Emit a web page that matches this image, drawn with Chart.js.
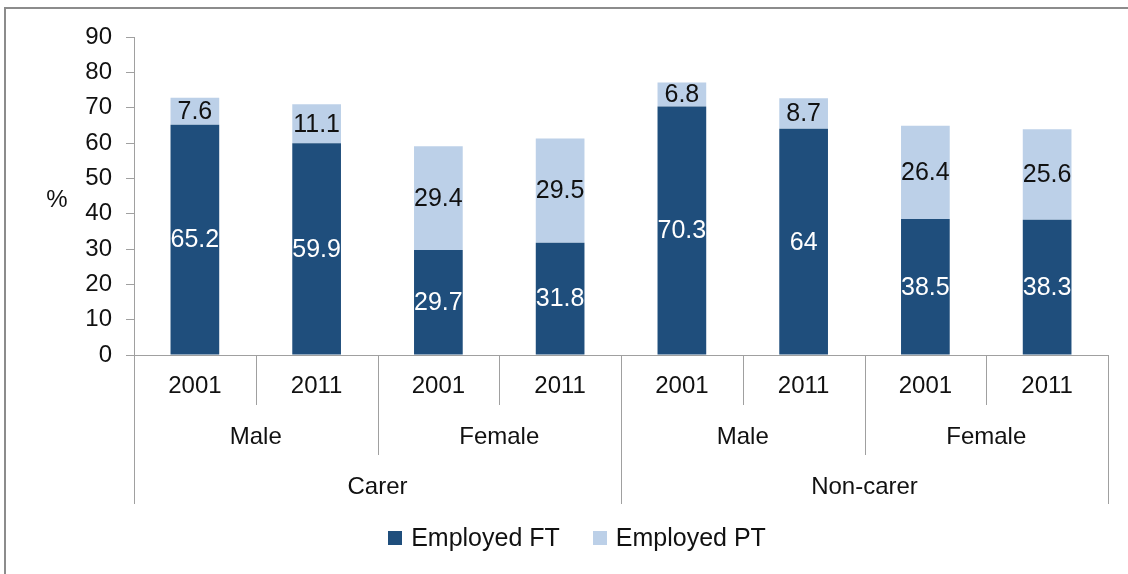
<!DOCTYPE html>
<html>
<head>
<meta charset="utf-8">
<title>Employment of carers and non-carers, 2001 and 2011</title>
<script src="https://cdn.jsdelivr.net/npm/chart.js@4.4.1/dist/chart.umd.min.js"></script>
<style>
  html, body { margin: 0; padding: 0; background: #ffffff; overflow: hidden; }
  #wrap { position: relative; width: 1128px; height: 574px; }
  #frame {
    position: absolute; left: 4px; top: 7px; width: 1200px; height: 700px;
    border-left: 2px solid #8c8c8c; border-top: 2px solid #8c8c8c;
    box-sizing: border-box; pointer-events: none;
  }
  canvas { position: absolute; left: 0; top: 0; }
</style>
</head>
<body>
<div id="wrap">
  <div id="frame"></div>
  <canvas id="chart" width="1128" height="574"></canvas>
</div>
<script>
// Census years, innermost level of the category axis
const years = ['2001', '2011', '2001', '2011', '2001', '2011', '2001', '2011'];
// Middle level: sex
const sexGroups = ['Male', 'Female', 'Male', 'Female'];
// Outer level: caring status
const carerGroups = ['Carer', 'Non-carer'];

// Share employed, %
const employedFT = [65.2, 59.9, 29.7, 31.8, 70.3, 64, 38.5, 38.3];
const employedPT = [7.6, 11.1, 29.4, 29.5, 6.8, 8.7, 26.4, 25.6];

const yMin = 0, yMax = 90, yStep = 10;
const yTitle = '%';

const FONT = '"Liberation Sans", Arial, sans-serif';
const TEXT = '#111111';
const AXIS = '#a0a0a0';
const FT_COLOR = '#1f4e7c';
const PT_COLOR = '#bcd0e8';

// Segment values written in the middle of each bar piece
const segmentLabels = {
  id: 'segmentLabels',
  afterDatasetsDraw(chart) {
    const ctx = chart.ctx;
    ctx.save();
    ctx.font = '25px ' + FONT;
    ctx.textAlign = 'center';
    ctx.textBaseline = 'middle';
    chart.data.datasets.forEach((ds, di) => {
      const meta = chart.getDatasetMeta(di);
      meta.data.forEach((bar, i) => {
        const v = ds.data[i];
        const p = bar.getProps(['x', 'y', 'base'], true);
        ctx.fillStyle = di === 0 ? '#ffffff' : TEXT;
        ctx.fillText(String(v), p.x, (p.y + p.base) / 2 + 1);
      });
    });
    ctx.restore();
  }
};

// Three-level category axis, y title and legend
const groupedAxis = {
  id: 'groupedAxis',
  afterDraw(chart) {
    const ctx = chart.ctx;
    const xs = chart.scales.x;
    const n = years.length;
    const w = (xs.right - xs.left) / n;
    const base = chart.chartArea.bottom;
    const sexSpan = n / sexGroups.length;
    const carerSpan = n / carerGroups.length;

    ctx.save();
    ctx.strokeStyle = AXIS;
    ctx.lineWidth = 1;
    for (let i = 0; i <= n; i++) {
      const bx = Math.round(xs.left + i * w) + 0.5;
      let depth = 50;
      if (i % carerSpan === 0) depth = 149;
      else if (i % sexSpan === 0) depth = 100;
      ctx.beginPath();
      ctx.moveTo(bx, base);
      ctx.lineTo(bx, base + depth);
      ctx.stroke();
    }

    ctx.fillStyle = TEXT;
    ctx.textAlign = 'center';
    ctx.textBaseline = 'middle';
    ctx.font = '24px ' + FONT;
    years.forEach((t, i) => {
      ctx.fillText(t, xs.left + (i + 0.5) * w, base + 31);
    });
    sexGroups.forEach((t, i) => {
      ctx.fillText(t, xs.left + (i + 0.5) * w * sexSpan, base + 82);
    });
    carerGroups.forEach((t, i) => {
      ctx.fillText(t, xs.left + (i + 0.5) * w * carerSpan, base + 132);
    });

    // y axis title
    ctx.fillText(yTitle, 57, (chart.chartArea.top + chart.chartArea.bottom) / 2 + 4);

    // legend
    ctx.font = '25px ' + FONT;
    ctx.textAlign = 'left';
    const box = 14, gap = 9, itemGap = 33;
    const items = chart.data.datasets.map(d => ({ label: d.label, color: d.backgroundColor }));
    const widths = items.map(it => box + gap + ctx.measureText(it.label).width);
    const total = widths.reduce((a, b) => a + b, 0) + itemGap * (items.length - 1);
    let lx = 577 - total / 2;
    const ly = 538;
    items.forEach((it, k) => {
      ctx.fillStyle = it.color;
      ctx.fillRect(Math.round(lx), ly - box / 2, box, box);
      ctx.fillStyle = TEXT;
      ctx.fillText(it.label, lx + box + gap, ly + 1);
      lx += widths[k] + itemGap;
    });
    ctx.restore();
  }
};

new Chart(document.getElementById('chart'), {
  type: 'bar',
  data: {
    labels: years,
    datasets: [
      { label: 'Employed FT', data: employedFT, backgroundColor: FT_COLOR,
        barPercentage: 0.4, categoryPercentage: 1 },
      { label: 'Employed PT', data: employedPT, backgroundColor: PT_COLOR,
        barPercentage: 0.4, categoryPercentage: 1 }
    ]
  },
  options: {
    responsive: false,
    animation: false,
    layout: { padding: { top: 37, right: 20, bottom: 0, left: 0 } },
    plugins: {
      legend: { display: false },
      tooltip: { enabled: false },
      title: { display: false }
    },
    scales: {
      x: {
        stacked: true,
        grid: { display: false },
        border: { display: true, color: AXIS, width: 1 },
        ticks: { display: false },
        afterFit(scale) { scale.height = 219; }
      },
      y: {
        stacked: true,
        min: yMin,
        max: yMax,
        grid: { display: true, drawOnChartArea: false, drawTicks: true, tickLength: 8, color: AXIS },
        border: { display: true, color: AXIS, width: 1 },
        ticks: { stepSize: yStep, padding: 14, color: TEXT, font: { family: FONT, size: 24 } },
        afterFit(scale) { scale.width = 134; }
      }
    }
  },
  plugins: [segmentLabels, groupedAxis]
});
</script>
</body>
</html>
